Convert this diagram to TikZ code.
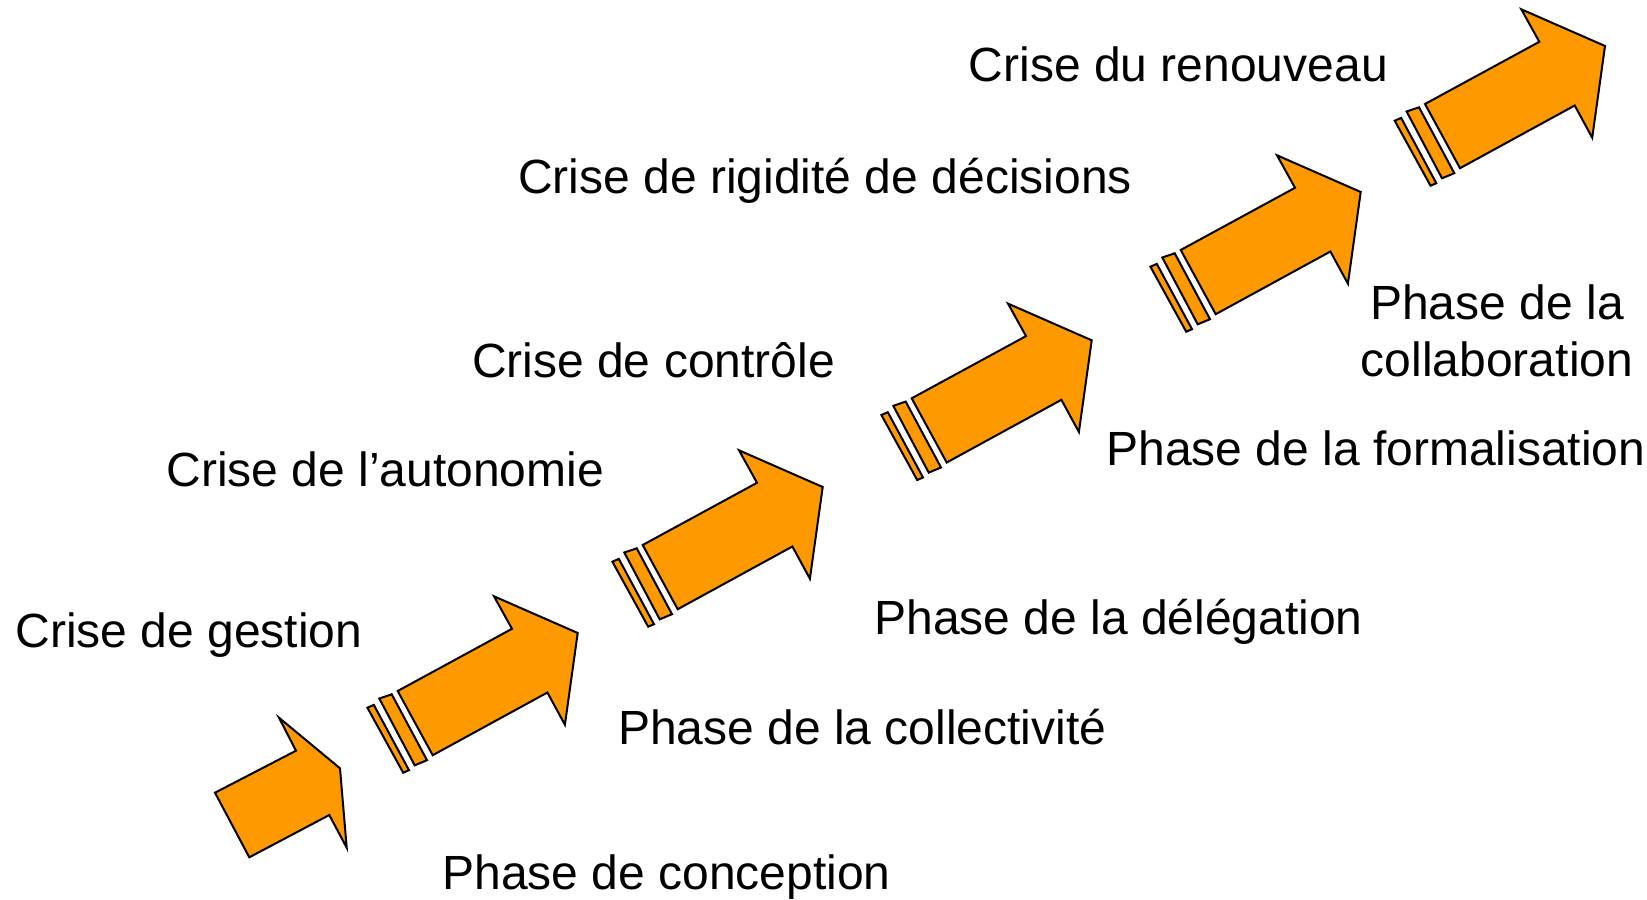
\documentclass[tikz,border=0pt]{standalone}
\usepackage{fontspec}
\setmainfont{Liberation Sans}
\definecolor{arroworange}{RGB}{255,153,0}
\tikzset{
  arrowfill/.style={fill=arroworange, draw=black, line width=1pt, line join=miter},
  lbl/.style={inner sep=0pt, anchor=base west, font=\fontsize{24pt}{28pt}\selectfont},
  lblc/.style={inner sep=0pt, anchor=base, font=\fontsize{24pt}{28pt}\selectfont},
  stripedarrow/.pic={
    \draw[arrowfill] (-30.3,16.7) -- (-23.9,13.9) -- (11.3,79.2) -- (5.5,81.7) -- cycle;
    \draw[arrowfill] (-18.4,7.5) -- (-6,3.3) -- (29.3,69.2) -- (17,74.3) -- cycle;
    \draw[arrowfill] (0,0) -- (114.3,-62.2) -- (96.3,-94.7) -- (180,-58) -- (167.2,33.7) -- (149.7,1.5) -- (35,64.2) -- cycle;
  }
}
\begin{document}
\begin{tikzpicture}[x=0.5pt,y=-0.5pt]
\useasboundingbox (0,0) rectangle (1647,899);
% first arrow
\draw[arrowfill] (215,792.7) -- (296,750.7) -- (279,717.7) -- (340,768.3) -- (346.7,847.7) -- (329.3,815) -- (249.3,857.3) -- cycle;
% striped arrows
\pic at (397.7,691) {stripedarrow};
\pic at (642.7,545) {stripedarrow};
\pic at (911.7,398.3) {stripedarrow};
\pic at (1180.7,250) {stripedarrow};
\pic at (1425,104) {stripedarrow};
% crisis labels
\node[lbl] (c5) at (968.5,82) {Crise du renouveau};
\node[lbl] (c4) at (517.8,193) {Crise de rigidité de décisions};
\node[lbl] (c3) at (471.6,377) {Crise de contrôle};
\node[lbl] (c2) at (166,486) {Crise de l’autonomie};
\node[lbl] (c1) at (15,647) {Crise de gestion};
% phase labels
\node[lbl] (p1) at (442,889) {Phase de conception};
\node[lbl] (p2) at (617.6,744) {Phase de la collectivité};
\node[lbl] (p3) at (874,634) {Phase de la délégation};
\node[lbl] (p4) at (1106,465) {Phase de la formalisation};
\node[lblc] (p5a) at (1497,319.5) {Phase de la};
\node[lblc] (p5b) at (1497,376) {collaboration};
\end{tikzpicture}
\end{document}
